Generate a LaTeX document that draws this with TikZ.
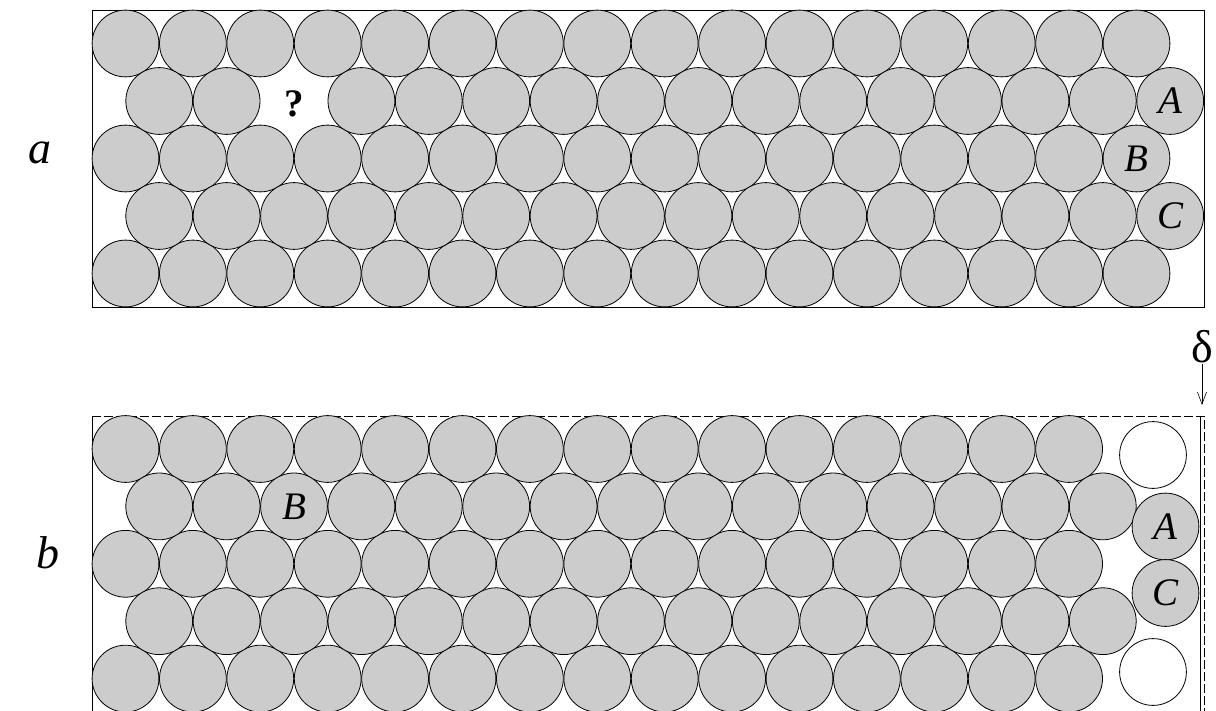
\documentclass[tikz,border=0pt]{standalone}
\usepackage{fontspec}
\setmainfont{Liberation Serif}
\usetikzlibrary{arrows.meta}
\definecolor{ballgray}{HTML}{CCCCCC}
\tikzset{
  ball/.style={draw, circle, fill=ballgray, minimum size=66.8pt, inner sep=0pt, line width=0.8pt, font=\rmfamily\fontsize{39}{42}\selectfont\itshape},
  hole/.style={ball, fill=white},
  panel/.style={font=\rmfamily\fontsize{46}{50}\selectfont\itshape},
  wall/.style={line width=0.9pt},
  oldwall/.style={wall, dash pattern=on 9pt off 3pt},
}
\begin{document}
\begin{tikzpicture}[x=1pt, y=-1pt]
  \useasboundingbox (0,0) rectangle (1216,711);
  % a: packing with one vacancy
  \draw[wall] (92,10) rectangle (1204,307);
  \foreach \k in {0,4}\foreach \i in {0,...,15}\node[ball] (a-\k-\i) at ({125.5+67.4*\i},{43.5+57.5*\k}) {};
  \foreach \i in {0,...,14}\node[ball] (a-2-\i) at ({125.5+67.4*\i},{43.5+57.5*2}) {};
  \foreach \i in {0,1,3,4,...,14}\node[ball] (a-1-\i) at ({159.2+67.4*\i},{43.5+57.5}) {};
  \foreach \i in {0,...,14}\node[ball] (a-3-\i) at ({159.2+67.4*\i},{43.5+57.5*3}) {};
  \node[ball] (a-1-15) at ({159.2+67.4*15},{43.5+57.5}) {A};
  \node[ball] (a-2-15) at ({125.5+67.4*15},{43.5+57.5*2}) {B};
  \node[ball] (a-3-15) at ({159.2+67.4*15},{43.5+57.5*3}) {C};
  \node[font=\rmfamily\fontsize{39}{42}\selectfont\bfseries] (vac) at (294,104) {?};
  \node[panel] (lbla) at (40,153) {a};
  % b: vacancy filled, wall moved by delta
  \draw[wall] (92,711) -- (92,416);
  \draw[oldwall] (92,416) -- (1204,416) -- (1204,711);
  \draw[wall] (1200,416) -- (1200,711);
  \foreach \k in {0,2,4}\foreach \i in {0,...,14}\node[ball] (b-\k-\i) at ({125.5+67.4*\i},{449+57.4*\k}) {};
  \foreach \k in {1,3}\foreach \i in {0,1,3,4,...,14}\node[ball] (b-\k-\i) at ({159.2+67.4*\i},{449+57.4*\k}) {};
  \node[ball] (b-3-2) at ({159.2+67.4*2},{449+57.4*3}) {};
  \node[ball] (b-1-2) at ({159.2+67.4*2},{449+57.4}) {B};
  \node[ball] (ba) at (1165.5,526.5) {A};
  \node[ball] (bc) at (1165.5,593) {C};
  \node[hole] (topgap) at (1153,455) {};
  \node[hole] (botgap) at (1153,672) {};
  \node[panel] (lblb) at (48,553) {b};
  \node[font=\rmfamily\fontsize{46}{48}\selectfont, inner sep=1pt] (delta) at (1202,347) {δ};
  \coordinate (walltop) at (1202,405);
  \draw[-{Straight Barb[length=12pt,width=9pt]}, line width=0.6pt] (delta) -- (walltop);
\end{tikzpicture}
\end{document}
